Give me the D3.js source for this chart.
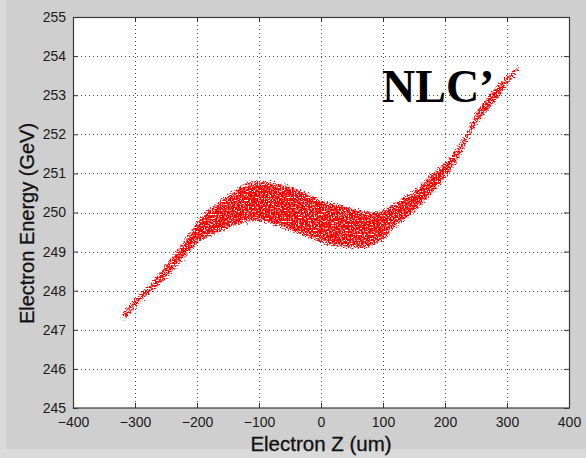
<!DOCTYPE html>
<html>
<head>
<meta charset="utf-8">
<script src="https://cdn.jsdelivr.net/npm/d3@7"></script>
<style>
  html, body { margin: 0; padding: 0; background: #dadada; }
  svg { display: block; }
</style>
</head>
<body>
<svg id="chart" width="586" height="458"></svg>
<script>
// Longitudinal phase space of the bunch: energy band edges sampled along z
const zPositions = [-325, -310, -300, -275, -250, -225, -200, -175, -150, -125, -100, -75, -50, -25, 0, 25, 50, 75, 100, 125, 150, 175, 200, 225, 250, 275, 300, 325];
const energyLower = [247.0, 247.25, 247.45, 247.85, 248.2, 248.65, 249.1, 249.35, 249.5, 249.65, 249.7, 249.6, 249.45, 249.3, 249.15, 249.05, 249.0, 249.02, 249.2, 249.6, 249.9, 250.3, 250.75, 251.3, 252.1, 252.6, 253.1, 253.65];
const energyUpper = [247.45, 247.75, 247.9, 248.3, 248.8, 249.3, 249.9, 250.25, 250.55, 250.8, 250.88, 250.85, 250.75, 250.6, 250.4, 250.3, 250.2, 250.1, 250.15, 250.4, 250.65, 251.05, 251.4, 251.95, 252.7, 253.2, 253.6, 253.95];

const zTicks = [-400, -300, -200, -100, 0, 100, 200, 300, 400];
const energyTicks = [245, 246, 247, 248, 249, 250, 251, 252, 253, 254, 255];

const xLabel = "Electron Z (um)";
const yLabel = "Electron Energy (GeV)";
const tag = "NLC\u2019";

const W = 586, H = 458;
const plotLeft = 73, plotTop = 17, plotW = 496, plotH = 391;

const svg = d3.select("#chart");

// figure background
svg.append("rect").attr("x", 6).attr("y", 0).attr("width", W - 6).attr("height", 449).attr("fill", "#cfcfcf");

const x = d3.scaleLinear().domain([-400, 400]).range([plotLeft, plotLeft + plotW]);
const y = d3.scaleLinear().domain([245, 255]).range([plotTop + plotH, plotTop]);

// axes area
svg.append("rect").attr("x", plotLeft).attr("y", plotTop).attr("width", plotW).attr("height", plotH).attr("fill", "#ffffff");

// speckle filter turns a filled band into a scatter-like cloud of dots
const defs = svg.append("defs");
const f = defs.append("filter").attr("id", "speckle")
  .attr("filterUnits", "userSpaceOnUse")
  .attr("x", plotLeft).attr("y", plotTop).attr("width", plotW).attr("height", plotH)
  .attr("color-interpolation-filters", "sRGB");
f.append("feTurbulence").attr("type", "fractalNoise").attr("baseFrequency", 0.7)
  .attr("numOctaves", 2).attr("seed", 11).attr("result", "noise");
f.append("feColorMatrix").attr("in", "noise").attr("type", "matrix")
  .attr("values", "0 0 0 0 0  0 0 0 0 0  0 0 0 0 0  1 0 0 0 0").attr("result", "noiseA");
f.append("feGaussianBlur").attr("in", "SourceAlpha").attr("stdDeviation", 3.4).attr("result", "soft");
f.append("feComposite").attr("in", "noiseA").attr("in2", "soft").attr("operator", "arithmetic")
  .attr("k1", 0).attr("k2", 1).attr("k3", 1.1).attr("k4", -1).attr("result", "mix");
const ct = f.append("feComponentTransfer").attr("in", "mix").attr("result", "dots");
ct.append("feFuncA").attr("type", "linear").attr("slope", 6).attr("intercept", -2.45);
f.append("feFlood").attr("flood-color", "#ff0000").attr("result", "red");
f.append("feComposite").attr("in", "red").attr("in2", "dots").attr("operator", "in");

// grid
const grid = svg.append("g").attr("stroke", "#444").attr("stroke-width", 1).attr("stroke-dasharray", "1,3");
grid.selectAll("line.v").data(zTicks.slice(1, -1)).join("line").attr("class", "v")
  .attr("x1", d => Math.round(x(d)) + 0.5).attr("x2", d => Math.round(x(d)) + 0.5)
  .attr("y1", plotTop).attr("y2", plotTop + plotH);
grid.selectAll("line.h").data(energyTicks.slice(1, -1)).join("line").attr("class", "h")
  .attr("y1", d => Math.round(y(d)) + 0.5).attr("y2", d => Math.round(y(d)) + 0.5)
  .attr("x1", plotLeft).attr("x2", plotLeft + plotW);

// particle band
const band = d3.area()
  .x((d, i) => x(zPositions[i]))
  .y0((d, i) => y(energyLower[i]))
  .y1((d, i) => y(energyUpper[i]))
  .curve(d3.curveCatmullRom);
svg.append("path").datum(zPositions).attr("d", band).attr("fill", "#000").attr("filter", "url(#speckle)");

// axes with inward ticks on all four sides
const axisStyle = g => {
  g.select(".domain").remove();
  g.selectAll(".tick line").attr("stroke", "#333");
  g.selectAll(".tick text").attr("fill", "#1a1a1a")
    .attr("font-family", "'Liberation Sans', Arial, sans-serif").attr("font-size", 14);
};
svg.append("g").attr("transform", `translate(0,${plotTop + plotH})`)
  .call(d3.axisBottom(x).tickValues(zTicks).tickSizeInner(-5).tickSizeOuter(0).tickPadding(9))
  .call(axisStyle);
svg.append("g").attr("transform", `translate(0,${plotTop})`)
  .call(d3.axisTop(x).tickValues(zTicks).tickSizeInner(-5).tickSizeOuter(0).tickFormat(""))
  .call(axisStyle);
svg.append("g").attr("transform", `translate(${plotLeft},0)`)
  .call(d3.axisLeft(y).tickValues(energyTicks).tickSizeInner(-5).tickSizeOuter(0).tickPadding(7))
  .call(axisStyle);
svg.append("g").attr("transform", `translate(${plotLeft + plotW},0)`)
  .call(d3.axisRight(y).tickValues(energyTicks).tickSizeInner(-5).tickSizeOuter(0).tickFormat(""))
  .call(axisStyle);

// frame
svg.append("rect").attr("x", plotLeft + 0.5).attr("y", plotTop + 0.5).attr("width", plotW).attr("height", plotH - 0.5)
  .attr("fill", "none").attr("stroke", "#3a3a3a").attr("stroke-width", 1.2);

// axis titles
svg.append("text").attr("x", plotLeft + plotW / 2).attr("y", 451)
  .attr("text-anchor", "middle").attr("font-family", "'Liberation Sans', Arial, sans-serif")
  .attr("font-size", 20.5).attr("fill", "#111").attr("stroke", "#111").attr("stroke-width", 0.3).text(xLabel);
svg.append("text").attr("transform", `translate(34,${plotTop + plotH / 2 + 11}) rotate(-90)`)
  .attr("text-anchor", "middle").attr("font-family", "'Liberation Sans', Arial, sans-serif")
  .attr("font-size", 20).attr("fill", "#111").attr("stroke", "#111").attr("stroke-width", 0.3).text(yLabel);

// annotation
svg.append("text").attr("x", 382).attr("y", 102)
  .attr("font-family", "'Liberation Serif', 'Times New Roman', serif").attr("font-weight", "bold")
  .attr("font-size", 46).attr("fill", "#000").text(tag);
</script>
</body>
</html>
